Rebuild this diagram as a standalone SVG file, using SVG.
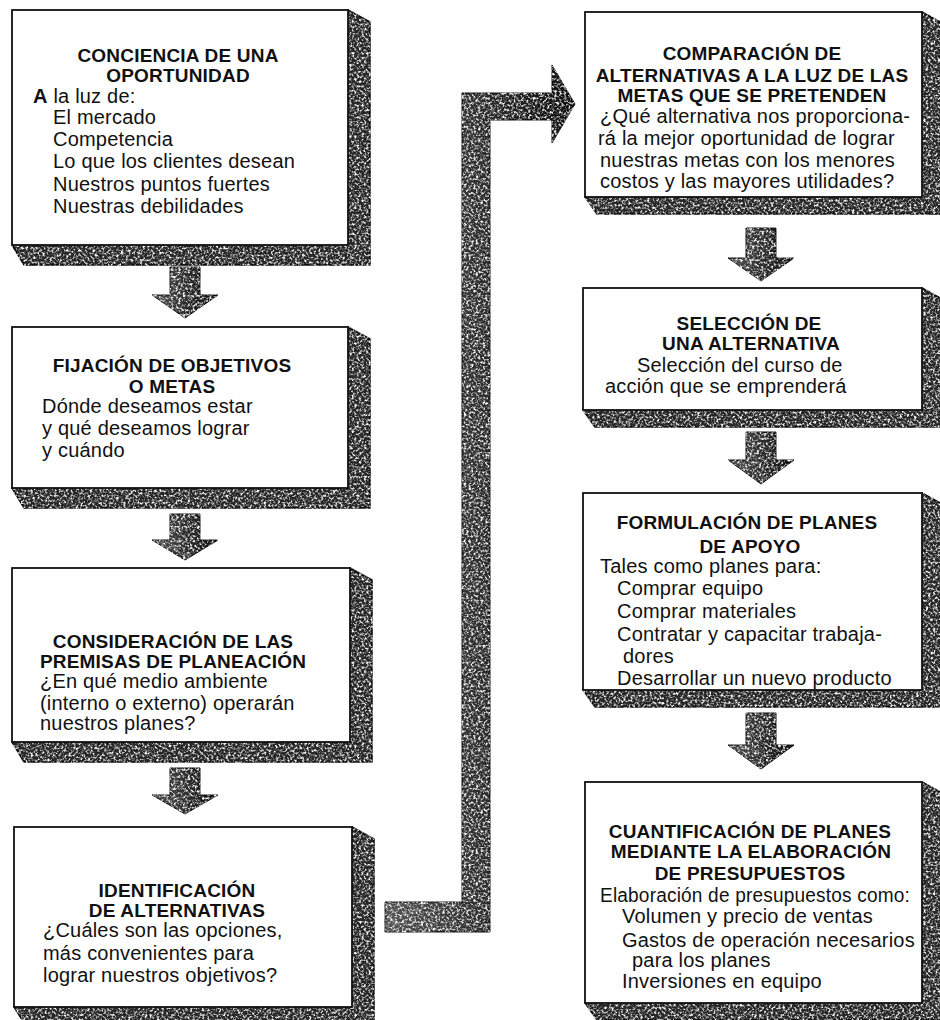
<svg xmlns="http://www.w3.org/2000/svg" width="940" height="1020" viewBox="0 0 940 1020">
  <defs>
    <!-- speckled print texture for the extruded sides and arrows -->
    <filter id="grain" x="-5%" y="-5%" width="110%" height="110%" color-interpolation-filters="sRGB">
      <feTurbulence type="fractalNoise" baseFrequency="0.42" numOctaves="2" seed="7" result="noise"/>
      <feColorMatrix in="noise" type="matrix" values="0 0 0 0 1  0 0 0 0 1  0 0 0 0 1  3.2 0 0 0 -1.45" result="spots"/>
      <feComposite in="spots" in2="SourceAlpha" operator="in" result="clipped"/>
      <feMerge>
        <feMergeNode in="SourceGraphic"/>
        <feMergeNode in="clipped"/>
      </feMerge>
    </filter>
    <linearGradient id="shade" x1="0" y1="0" x2="1" y2="0">
      <stop offset="0" stop-color="#555"/>
      <stop offset="0.55" stop-color="#2a2a2a"/>
      <stop offset="1" stop-color="#0c0c0c"/>
    </linearGradient>
    <style>
      .face { fill:#fff; stroke:#111; stroke-width:1.8; }
      .depth { fill:#262626; stroke:#0a0a0a; stroke-width:1.5; filter:url(#grain); }
      .arw { fill:url(#shade); stroke:#0a0a0a; stroke-width:1; filter:url(#grain); }
      .t { font-family:"Liberation Sans", Arial, Helvetica, sans-serif; font-weight:bold; font-size:19px; text-anchor:middle; fill:#111; letter-spacing:0.2px; }
      .b { font-family:"Liberation Sans", Arial, Helvetica, sans-serif; font-size:20px; fill:#111; letter-spacing:0.2px; }
    </style>
  </defs>

  <rect width="940" height="1020" fill="#fff"/>

  <!-- connectors: downward step arrows and the long return arrow -->
  <g id="connectors">
    <polygon class="arw" points="170,267 200,267 200,295 218,295 185,318 152,295 170,295"/>
    <polygon class="arw" points="170,514 200,514 200,540 218,540 185,560 152,540 170,540"/>
    <polygon class="arw" points="170,768 200,768 200,795 218,795 185,814 152,795 170,795"/>
    <polygon class="arw" points="746,228 776,228 776,258 794,258 761,281 728,258 746,258"/>
    <polygon class="arw" points="746,432 776,432 776,460 794,460 761,484 728,460 746,460"/>
    <polygon class="arw" points="746,713 776,713 776,745 794,745 761,769 728,745 746,745"/>
    <polygon class="arw" points="385,902 462,902 462,93 552,93 552,65 575,104 552,143 552,120 490,120 490,932 385,932"/>
  </g>

  <!-- left column -->
  <g id="conciencia">
    <polygon class="depth" points="348,10 370,22 370,265 24,265 12,245"/>
    <rect class="face" x="12" y="10" width="336" height="235"/>
    <text class="t" x="178" y="62">CONCIENCIA DE UNA</text>
    <text class="t" x="178" y="82">OPORTUNIDAD</text>
    <text class="b" x="33" y="103"><tspan font-weight="bold">A</tspan> la luz de:</text>
    <text class="b" x="53" y="124">El mercado</text>
    <text class="b" x="53" y="146">Competencia</text>
    <text class="b" x="53" y="168">Lo que los clientes desean</text>
    <text class="b" x="53" y="191">Nuestros puntos fuertes</text>
    <text class="b" x="53" y="213">Nuestras debilidades</text>
  </g>

  <g id="fijacion">
    <polygon class="depth" points="348,327 370,339 370,508 24,508 12,488"/>
    <rect class="face" x="12" y="327" width="336" height="161"/>
    <text class="t" x="172" y="372">FIJACIÓN DE OBJETIVOS</text>
    <text class="t" x="172" y="393">O METAS</text>
    <text class="b" x="42" y="413">Dónde deseamos estar</text>
    <text class="b" x="42" y="435">y qué deseamos lograr</text>
    <text class="b" x="42" y="457">y cuándo</text>
  </g>

  <g id="premisas">
    <polygon class="depth" points="350,568 372,580 372,762 24,762 12,742"/>
    <rect class="face" x="12" y="568" width="338" height="174"/>
    <text class="t" x="173" y="648">CONSIDERACIÓN DE LAS</text>
    <text class="t" x="173" y="668">PREMISAS DE PLANEACIÓN</text>
    <text class="b" x="40" y="688">¿En qué medio ambiente</text>
    <text class="b" x="40" y="710">(interno o externo) operarán</text>
    <text class="b" x="40" y="730">nuestros planes?</text>
  </g>

  <g id="identificacion">
    <polygon class="depth" points="352,827 374,839 374,1026 26,1026 14,1007"/>
    <rect class="face" x="14" y="827" width="338" height="180"/>
    <text class="t" x="177" y="897">IDENTIFICACIÓN</text>
    <text class="t" x="177" y="917">DE ALTERNATIVAS</text>
    <text class="b" x="43" y="937">¿Cuáles son las opciones,</text>
    <text class="b" x="43" y="960">más convenientes para</text>
    <text class="b" x="43" y="982">lograr nuestros objetivos?</text>
  </g>

  <!-- right column -->
  <g id="comparacion">
    <polygon class="depth" points="922,12 944,24 944,214 597,214 585,197"/>
    <rect class="face" x="585" y="12" width="337" height="185"/>
    <text class="t" x="752" y="60">COMPARACIÓN DE</text>
    <text class="t" x="752" y="82" letter-spacing="0">ALTERNATIVAS A LA LUZ DE LAS</text>
    <text class="t" x="752" y="102">METAS QUE SE PRETENDEN</text>
    <text class="b" x="600" y="123">¿Qué alternativa nos proporciona-</text>
    <text class="b" x="598" y="145">rá la mejor oportunidad de lograr</text>
    <text class="b" x="600" y="167">nuestras metas con los menores</text>
    <text class="b" x="600" y="188">costos y las mayores utilidades?</text>
  </g>

  <g id="seleccion">
    <polygon class="depth" points="922,288 944,300 944,427 595,427 583,410"/>
    <rect class="face" x="583" y="288" width="339" height="122"/>
    <text class="t" x="749" y="330">SELECCIÓN DE</text>
    <text class="t" x="751" y="350">UNA ALTERNATIVA</text>
    <text class="b" x="637" y="372">Selección del curso de</text>
    <text class="b" x="605" y="393">acción que se emprenderá</text>
  </g>

  <g id="formulacion">
    <polygon class="depth" points="922,493 944,505 944,707 595,707 583,690"/>
    <rect class="face" x="583" y="493" width="339" height="197"/>
    <text class="t" x="747" y="529">FORMULACIÓN DE PLANES</text>
    <text class="t" x="750" y="553">DE APOYO</text>
    <text class="b" x="600" y="573">Tales como planes para:</text>
    <text class="b" x="617" y="595">Comprar equipo</text>
    <text class="b" x="617" y="618">Comprar materiales</text>
    <text class="b" x="617" y="641">Contratar y capacitar trabaja-</text>
    <text class="b" x="623" y="663">dores</text>
    <text class="b" x="617" y="685">Desarrollar un nuevo producto</text>
  </g>

  <g id="cuantificacion">
    <polygon class="depth" points="922,782 944,794 944,1020 597,1020 585,1003"/>
    <rect class="face" x="585" y="782" width="337" height="221"/>
    <text class="t" x="750" y="838">CUANTIFICACIÓN DE PLANES</text>
    <text class="t" x="751" y="858">MEDIANTE LA ELABORACIÓN</text>
    <text class="t" x="750" y="880">DE PRESUPUESTOS</text>
    <text class="b" x="600" y="902" textLength="310" lengthAdjust="spacingAndGlyphs">Elaboración de presupuestos como:</text>
    <text class="b" x="622" y="923">Volumen y precio de ventas</text>
    <text class="b" x="622" y="947">Gastos de operación necesarios</text>
    <text class="b" x="632" y="967">para los planes</text>
    <text class="b" x="622" y="988">Inversiones en equipo</text>
  </g>
</svg>
